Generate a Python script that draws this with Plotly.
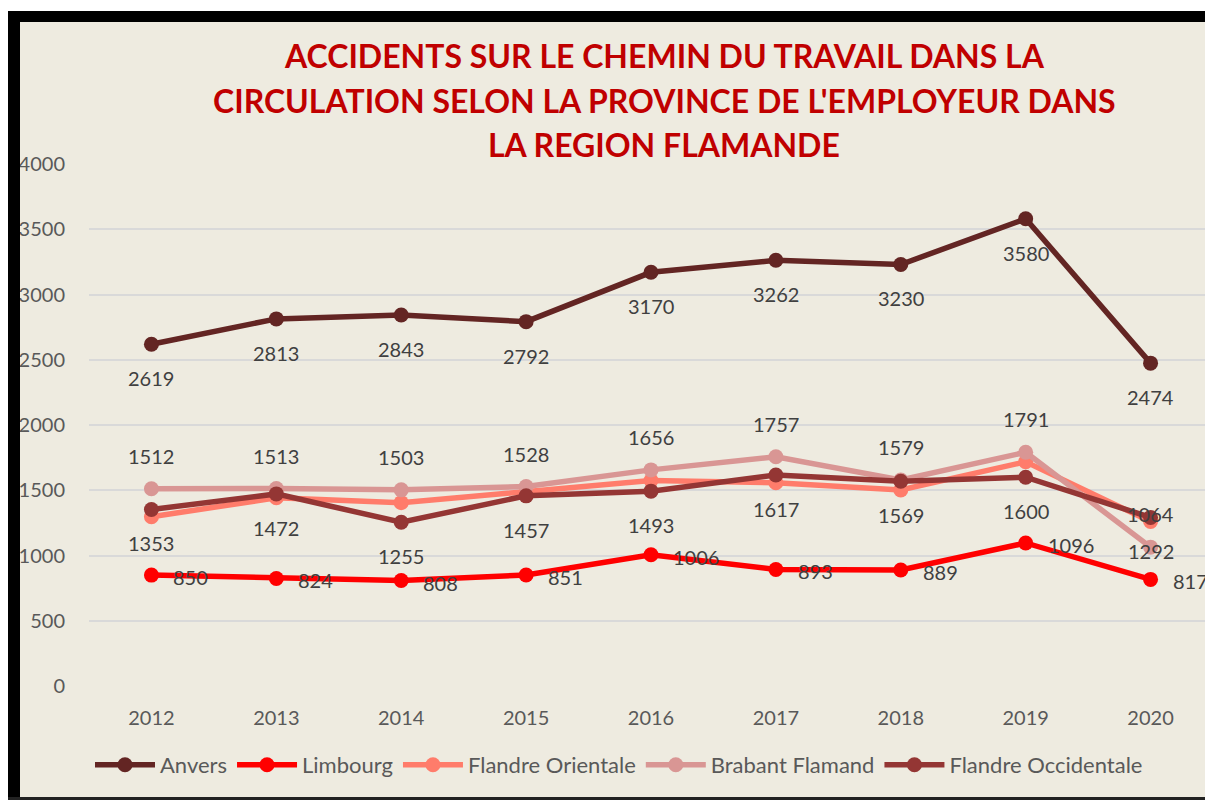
import plotly.graph_objects as go

years = ["2012", "2013", "2014", "2015", "2016", "2017", "2018", "2019", "2020"]
anvers = [2619, 2813, 2843, 2792, 3170, 3262, 3230, 3580, 2474]
limbourg = [850, 824, 808, 851, 1006, 893, 889, 1096, 817]
flandre_orientale = [1297, 1442, 1405, 1485, 1575, 1558, 1502, 1718, 1260]
brabant_flamand = [1512, 1513, 1503, 1528, 1656, 1757, 1579, 1791, 1064]
flandre_occidentale = [1353, 1472, 1255, 1457, 1493, 1617, 1569, 1600, 1292]

series_names = ["Anvers", "Limbourg", "Flandre Orientale", "Brabant Flamand", "Flandre Occidentale"]
series_values = [anvers, limbourg, flandre_orientale, brabant_flamand, flandre_occidentale]
colors = ["#632523", "#FF0000", "#FF7C6B", "#D99694", "#943634"]
label_pos = ["below", "right", None, "above", "below"]

title_lines = [
    "ACCIDENTS SUR LE CHEMIN DU TRAVAIL DANS LA",
    "CIRCULATION SELON LA PROVINCE DE L'EMPLOYEUR DANS",
    "LA REGION FLAMANDE",
]

FONT = "Lato"
OFF = 8  # page body margin
W, H = 1205, 792
ML, MR, MT, MB = 81, 0, 156, 114
PW = W - ML - MR
PH = H - MT - MB


def px(x):
    return (x - OFF - ML) / PW


def py(y):
    return (H - MB - (y - OFF)) / PH


fig = go.Figure()
for name, vals, col in zip(series_names, series_values, colors):
    fig.add_trace(go.Scatter(
        x=years, y=vals, name=name, mode="lines+markers",
        line=dict(color=col, width=5.5),
        marker=dict(color=col, size=15),
    ))

annotations = []
for vals, pos in zip(series_values, label_pos):
    if pos is None:
        continue
    for i, v in enumerate(vals):
        a = dict(x=i, y=v, xref="x", yref="y", text=str(v), showarrow=False,
                 font=dict(family=FONT, size=20, color="#404040"))
        if pos == "below":
            a.update(yanchor="middle", yshift=-34)
        elif pos == "above":
            a.update(yanchor="middle", yshift=33)
        else:
            a.update(xanchor="left", yanchor="middle", xshift=20, yshift=-2)
        annotations.append(a)

for i, line in enumerate(title_lines):
    annotations.append(dict(
        x=px(664), y=py(55 + 45 * i), xref="paper", yref="paper", text=line,
        showarrow=False, xanchor="center", yanchor="middle",
        font=dict(family=FONT, size=32, color="#C00000", weight="bold"),
    ))

shapes = [
    dict(type="rect", xref="paper", yref="paper", x0=px(0), x1=px(1220), y0=py(11), y1=py(0),
         fillcolor="white", line=dict(width=0), layer="above"),
    dict(type="rect", xref="paper", yref="paper", x0=px(8), x1=px(20), y0=py(810), y1=py(11),
         fillcolor="black", line=dict(width=0), layer="above"),
    dict(type="rect", xref="paper", yref="paper", x0=px(8), x1=px(1220), y0=py(22), y1=py(11),
         fillcolor="black", line=dict(width=0), layer="above"),
    dict(type="rect", xref="paper", yref="paper", x0=px(1211), x1=px(1220), y0=py(810), y1=py(11),
         fillcolor="#222222", line=dict(width=0), layer="above"),
    dict(type="rect", xref="paper", yref="paper", x0=px(8), x1=px(1220), y0=py(810), y1=py(797),
         fillcolor="#222222", line=dict(width=0), layer="above"),
]

fig.update_layout(
    width=W, height=H,
    margin=dict(l=ML, r=MR, t=MT, b=MB, pad=0),
    paper_bgcolor="#EEEBE0",
    plot_bgcolor="#EEEBE0",
    showlegend=True,
    legend=dict(orientation="h", x=px(619), y=py(765), xanchor="center", yanchor="middle",
                font=dict(family=FONT, size=22, color="#595959"), bgcolor="rgba(0,0,0,0)",
                itemwidth=60, tracegroupgap=0),
    annotations=annotations,
    shapes=shapes,
    font=dict(family=FONT, color="#595959"),
)
fig.update_xaxes(type="category", range=[-0.5, 8.5], showgrid=False, zeroline=False,
                 showline=False, ticks="", ticklabelstandoff=18,
                 tickfont=dict(family=FONT, size=20, color="#595959"))
fig.update_yaxes(range=[0, 4000], dtick=500, showgrid=True, gridcolor="#D9D9D9", gridwidth=1.5,
                 zeroline=False, showline=False, ticks="", ticklabelstandoff=23,
                 tickfont=dict(family=FONT, size=20, color="#595959"))

fig.write_html("out.html")
